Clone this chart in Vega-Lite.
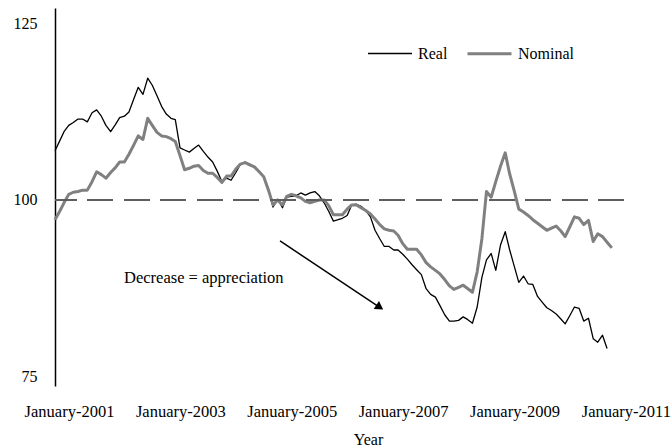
{
  "$schema": "https://vega.github.io/schema/vega-lite/v6.json",
  "width": 569,
  "height": 378,
  "autosize": {"type": "none"},
  "padding": {"left": 55, "top": 8, "right": 48, "bottom": 62},
  "background": "white",
  "config": {"view": {"stroke": null}, "font": "Liberation Serif"},
  "datasets": {
    "fx": [
      {"date": "2001-01", "Real": 107.0, "Nominal": 97.2},
      {"date": "2001-02", "Real": 108.4, "Nominal": 98.4},
      {"date": "2001-03", "Real": 109.7, "Nominal": 99.6},
      {"date": "2001-04", "Real": 110.6, "Nominal": 100.8},
      {"date": "2001-05", "Real": 111.0, "Nominal": 101.1},
      {"date": "2001-06", "Real": 111.5, "Nominal": 101.2},
      {"date": "2001-07", "Real": 111.5, "Nominal": 101.4},
      {"date": "2001-08", "Real": 111.1, "Nominal": 101.4},
      {"date": "2001-09", "Real": 112.4, "Nominal": 102.6},
      {"date": "2001-10", "Real": 112.8, "Nominal": 104.0},
      {"date": "2001-11", "Real": 111.9, "Nominal": 103.6},
      {"date": "2001-12", "Real": 110.6, "Nominal": 103.1},
      {"date": "2002-01", "Real": 109.7, "Nominal": 103.9},
      {"date": "2002-02", "Real": 110.7, "Nominal": 104.6},
      {"date": "2002-03", "Real": 111.7, "Nominal": 105.4},
      {"date": "2002-04", "Real": 111.9, "Nominal": 105.4},
      {"date": "2002-05", "Real": 112.5, "Nominal": 106.5},
      {"date": "2002-06", "Real": 114.3, "Nominal": 107.8},
      {"date": "2002-07", "Real": 116.0, "Nominal": 109.1},
      {"date": "2002-08", "Real": 115.0, "Nominal": 108.6},
      {"date": "2002-09", "Real": 117.3, "Nominal": 111.6},
      {"date": "2002-10", "Real": 116.3, "Nominal": 110.6},
      {"date": "2002-11", "Real": 114.8, "Nominal": 109.6},
      {"date": "2002-12", "Real": 113.3, "Nominal": 109.1},
      {"date": "2003-01", "Real": 112.2, "Nominal": 109.0},
      {"date": "2003-02", "Real": 111.6, "Nominal": 108.7},
      {"date": "2003-03", "Real": 111.4, "Nominal": 108.3},
      {"date": "2003-04", "Real": 107.4, "Nominal": 106.3},
      {"date": "2003-05", "Real": 107.1, "Nominal": 104.3},
      {"date": "2003-06", "Real": 106.8, "Nominal": 104.5},
      {"date": "2003-07", "Real": 107.3, "Nominal": 104.8},
      {"date": "2003-08", "Real": 107.8, "Nominal": 104.9},
      {"date": "2003-09", "Real": 106.9, "Nominal": 104.2},
      {"date": "2003-10", "Real": 106.1, "Nominal": 103.8},
      {"date": "2003-11", "Real": 105.4, "Nominal": 103.8},
      {"date": "2003-12", "Real": 104.1, "Nominal": 103.2},
      {"date": "2004-01", "Real": 102.6, "Nominal": 102.5},
      {"date": "2004-02", "Real": 103.1, "Nominal": 103.4},
      {"date": "2004-03", "Real": 102.8, "Nominal": 103.4},
      {"date": "2004-04", "Real": 103.9, "Nominal": 104.4},
      {"date": "2004-05", "Real": 105.1, "Nominal": 105.1},
      {"date": "2004-06", "Real": 105.4, "Nominal": 105.3},
      {"date": "2004-07", "Real": 105.1, "Nominal": 105.0},
      {"date": "2004-08", "Real": 104.7, "Nominal": 104.7},
      {"date": "2004-09", "Real": 104.1, "Nominal": 104.0},
      {"date": "2004-10", "Real": 103.3, "Nominal": 103.3},
      {"date": "2004-11", "Real": 101.6, "Nominal": 101.4},
      {"date": "2004-12", "Real": 99.0, "Nominal": 99.3},
      {"date": "2005-01", "Real": 100.1, "Nominal": 100.0},
      {"date": "2005-02", "Real": 98.9, "Nominal": 99.3},
      {"date": "2005-03", "Real": 100.4, "Nominal": 100.5},
      {"date": "2005-04", "Real": 100.5, "Nominal": 100.8},
      {"date": "2005-05", "Real": 100.6, "Nominal": 100.6},
      {"date": "2005-06", "Real": 101.0, "Nominal": 100.3},
      {"date": "2005-07", "Real": 100.7, "Nominal": 99.8},
      {"date": "2005-08", "Real": 101.0, "Nominal": 99.6},
      {"date": "2005-09", "Real": 101.2, "Nominal": 99.8},
      {"date": "2005-10", "Real": 100.6, "Nominal": 100.0},
      {"date": "2005-11", "Real": 99.6, "Nominal": 100.0},
      {"date": "2005-12", "Real": 98.4, "Nominal": 99.2},
      {"date": "2006-01", "Real": 97.0, "Nominal": 97.9},
      {"date": "2006-02", "Real": 97.2, "Nominal": 97.9},
      {"date": "2006-03", "Real": 97.4, "Nominal": 97.9},
      {"date": "2006-04", "Real": 97.8, "Nominal": 98.7},
      {"date": "2006-05", "Real": 99.3, "Nominal": 99.3},
      {"date": "2006-06", "Real": 99.4, "Nominal": 99.3},
      {"date": "2006-07", "Real": 99.1, "Nominal": 98.9},
      {"date": "2006-08", "Real": 98.5, "Nominal": 98.5},
      {"date": "2006-09", "Real": 97.6, "Nominal": 98.0},
      {"date": "2006-10", "Real": 95.7, "Nominal": 97.3},
      {"date": "2006-11", "Real": 94.5, "Nominal": 96.5},
      {"date": "2006-12", "Real": 93.4, "Nominal": 95.9},
      {"date": "2007-01", "Real": 93.4, "Nominal": 95.7},
      {"date": "2007-02", "Real": 92.9, "Nominal": 95.6},
      {"date": "2007-03", "Real": 92.9, "Nominal": 95.0},
      {"date": "2007-04", "Real": 92.3, "Nominal": 93.8},
      {"date": "2007-05", "Real": 91.6, "Nominal": 93.0},
      {"date": "2007-06", "Real": 90.8, "Nominal": 93.0},
      {"date": "2007-07", "Real": 90.1, "Nominal": 93.0},
      {"date": "2007-08", "Real": 89.4, "Nominal": 92.2},
      {"date": "2007-09", "Real": 87.4, "Nominal": 91.1},
      {"date": "2007-10", "Real": 86.6, "Nominal": 90.5},
      {"date": "2007-11", "Real": 86.2, "Nominal": 90.0},
      {"date": "2007-12", "Real": 85.0, "Nominal": 89.5},
      {"date": "2008-01", "Real": 83.7, "Nominal": 88.7},
      {"date": "2008-02", "Real": 82.8, "Nominal": 87.8},
      {"date": "2008-03", "Real": 82.8, "Nominal": 87.3},
      {"date": "2008-04", "Real": 82.9, "Nominal": 87.6},
      {"date": "2008-05", "Real": 83.4, "Nominal": 87.9},
      {"date": "2008-06", "Real": 83.0, "Nominal": 87.4},
      {"date": "2008-07", "Real": 82.5, "Nominal": 86.9},
      {"date": "2008-08", "Real": 84.8, "Nominal": 89.8},
      {"date": "2008-09", "Real": 89.0, "Nominal": 94.5},
      {"date": "2008-10", "Real": 91.5, "Nominal": 101.2},
      {"date": "2008-11", "Real": 92.4, "Nominal": 100.4},
      {"date": "2008-12", "Real": 90.0, "Nominal": 102.6},
      {"date": "2009-01", "Real": 93.6, "Nominal": 104.8},
      {"date": "2009-02", "Real": 95.5, "Nominal": 106.7},
      {"date": "2009-03", "Real": 93.0, "Nominal": 103.8},
      {"date": "2009-04", "Real": 90.6, "Nominal": 101.3},
      {"date": "2009-05", "Real": 88.3, "Nominal": 98.7},
      {"date": "2009-06", "Real": 89.2, "Nominal": 98.3},
      {"date": "2009-07", "Real": 88.1, "Nominal": 97.8},
      {"date": "2009-08", "Real": 88.0, "Nominal": 97.2},
      {"date": "2009-09", "Real": 86.3, "Nominal": 96.7},
      {"date": "2009-10", "Real": 85.5, "Nominal": 96.2},
      {"date": "2009-11", "Real": 84.7, "Nominal": 95.7},
      {"date": "2009-12", "Real": 84.3, "Nominal": 96.0},
      {"date": "2010-01", "Real": 83.8, "Nominal": 96.3},
      {"date": "2010-02", "Real": 83.1, "Nominal": 95.6},
      {"date": "2010-03", "Real": 82.4, "Nominal": 94.8},
      {"date": "2010-04", "Real": 83.6, "Nominal": 96.2},
      {"date": "2010-05", "Real": 84.8, "Nominal": 97.6},
      {"date": "2010-06", "Real": 84.6, "Nominal": 97.4},
      {"date": "2010-07", "Real": 82.8, "Nominal": 96.5},
      {"date": "2010-08", "Real": 83.2, "Nominal": 97.1},
      {"date": "2010-09", "Real": 80.3, "Nominal": 94.1},
      {"date": "2010-10", "Real": 79.8, "Nominal": 95.2},
      {"date": "2010-11", "Real": 80.8, "Nominal": 94.8},
      {"date": "2010-12", "Real": 78.9, "Nominal": 94.0},
      {"date": "2011-01", "Nominal": 93.2}
    ],
    "arrow": [{"date": "2005-01-16", "value": 94.18, "date2": "2006-11-01", "value2": 84.76}],
    "note": [{"date": "2003-09-04", "value": 88.17, "label": "Decrease = appreciation"}]
  },
  "layer": [
    {
      "data": {"name": "fx"},
      "transform": [{"fold": ["Real", "Nominal"], "as": ["series", "value"]}],
      "mark": {"type": "line", "strokeJoin": "round"},
      "encoding": {
        "x": {
          "field": "date", "type": "temporal",
          "scale": {"type": "utc", "domain": [{"year": 2001, "month": 1, "date": 1, "utc": true}, {"year": 2011, "month": 3, "date": 22, "utc": true}]},
          "axis": {
            "values": [
              {"year": 2001, "month": 1, "date": 1, "utc": true},
              {"year": 2003, "month": 1, "date": 1, "utc": true},
              {"year": 2005, "month": 1, "date": 1, "utc": true},
              {"year": 2007, "month": 1, "date": 1, "utc": true},
              {"year": 2009, "month": 1, "date": 1, "utc": true},
              {"year": 2011, "month": 1, "date": 1, "utc": true}
            ],
            "labelExpr": "utcFormat(datum.value, '%B-%Y')",
            "domain": false, "ticks": false, "tickSize": 0, "grid": false,
            "labelFont": "Liberation Serif", "labelFontSize": 16.5, "labelColor": "black",
            "labelOffset": 14, "labelPadding": 30, "labelBaseline": "alphabetic",
            "labelFlush": false, "labelOverlap": false,
            "title": "Year", "titleFont": "Liberation Serif", "titleFontSize": 16,
            "titleFontWeight": "normal", "titleColor": "black",
            "titleX": 313, "titleY": 58.5, "titleBaseline": "alphabetic", "titleAlign": "center"
          }
        },
        "y": {
          "field": "value", "type": "quantitative",
          "scale": {"domain": [73.58, 127.27], "nice": false, "zero": false},
          "axis": {
            "values": [75, 100, 125],
            "domain": true, "domainColor": "black", "domainWidth": 1.5,
            "ticks": false, "tickSize": 0, "grid": false,
            "labelFont": "Liberation Serif", "labelFontSize": 16, "labelColor": "black",
            "labelPadding": 18, "title": null
          }
        },
        "color": {
          "field": "series", "type": "nominal",
          "scale": {"domain": ["Real", "Nominal"], "range": ["#000000", "#808080"]},
          "legend": {
            "orient": "none", "legendX": 312, "legendY": 22, "direction": "horizontal",
            "title": null, "symbolType": "stroke", "symbolSize": 1936, "symbolStrokeWidth": 2.5,
            "labelFont": "Liberation Serif", "labelFontSize": 16, "labelColor": "black",
            "labelOffset": 5, "columnPadding": 13, "padding": 0
          }
        },
        "strokeWidth": {
          "field": "series", "type": "nominal",
          "scale": {"domain": ["Real", "Nominal"], "range": [1.3, 3]},
          "legend": null
        }
      }
    },
    {
      "data": {"name": "fx"},
      "mark": {"type": "rule", "stroke": "#5f5f5f", "strokeWidth": 1.5, "strokeDash": [25.5, 11]},
      "encoding": {
        "y": {"datum": 100}
      }
    },
    {
      "data": {"name": "arrow"},
      "mark": {"type": "rule", "color": "black", "strokeWidth": 1.5},
      "encoding": {
        "x": {"field": "date", "type": "temporal"},
        "y": {"field": "value", "type": "quantitative"},
        "x2": {"field": "date2"},
        "y2": {"field": "value2"}
      }
    },
    {
      "data": {"name": "arrow"},
      "mark": {"type": "point", "shape": "triangle-up", "filled": true, "color": "black", "opacity": 1, "size": 90, "angle": 124},
      "encoding": {
        "x": {"field": "date2", "type": "temporal"},
        "y": {"field": "value2", "type": "quantitative"}
      }
    },
    {
      "data": {"name": "note"},
      "mark": {"type": "text", "font": "Liberation Serif", "fontSize": 16.5, "align": "center", "baseline": "alphabetic", "color": "black"},
      "encoding": {
        "x": {"field": "date", "type": "temporal"},
        "y": {"field": "value", "type": "quantitative"},
        "text": {"field": "label"}
      }
    }
  ]
}
